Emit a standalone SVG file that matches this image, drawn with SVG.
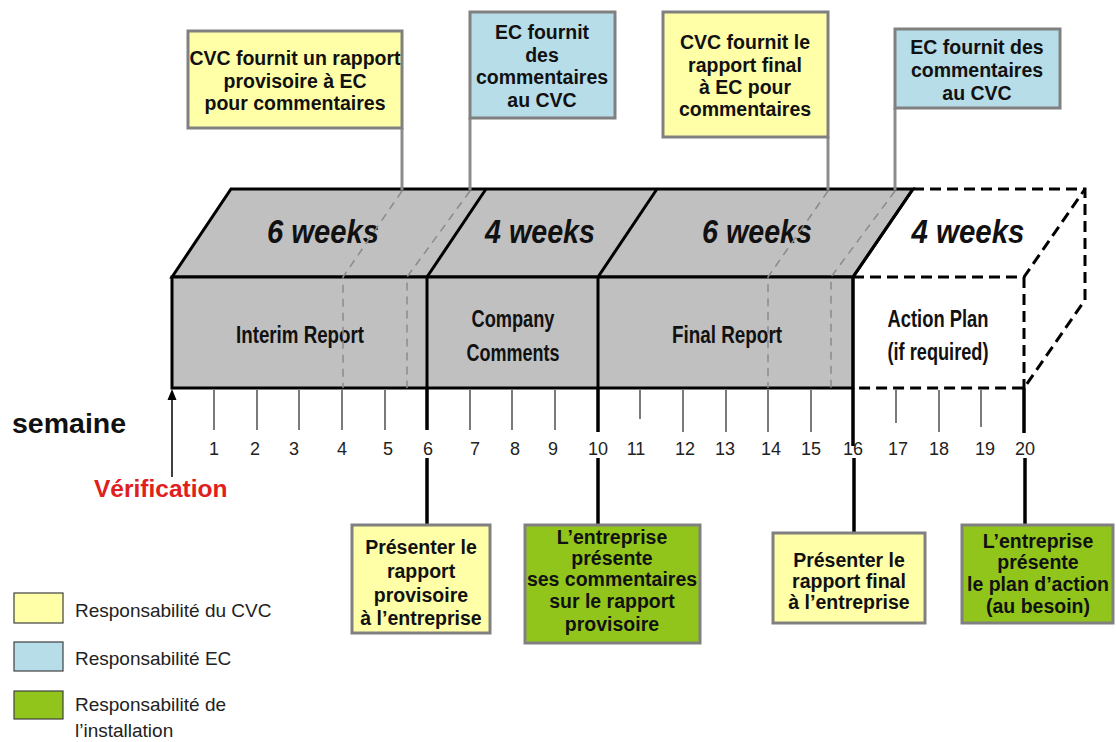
<svg xmlns="http://www.w3.org/2000/svg" width="1116" height="742" viewBox="0 0 1116 742">
<defs>
<style>
.bg{fill:#ffffff}
.face{fill:#c0c0c0;stroke:#000;stroke-width:3;stroke-linejoin:miter}
.solid{stroke:#000;stroke-width:3;fill:none}
.dash{stroke:#000;stroke-width:3;fill:none;stroke-dasharray:11 6}
.gdash{stroke:#8a8a8a;stroke-width:1.5;fill:none;stroke-dasharray:8 6}
.stem{stroke:#8c8c8c;stroke-width:3;fill:none}
.tick{stroke:#333;stroke-width:1.3}
.thick{stroke:#000;stroke-width:3.5}
.cy{fill:#ffffa8;stroke:#808080;stroke-width:3}
.cb{fill:#b7dde8;stroke:#808080;stroke-width:3}
.cg{fill:#92c51b;stroke:#808080;stroke-width:3}
.ct{font-family:"Liberation Sans",Arial,sans-serif;font-weight:bold;font-size:19.5px;fill:#111;text-anchor:middle}
.wk{font-family:"Liberation Sans",Arial,sans-serif;font-weight:bold;font-style:italic;font-size:34px;fill:#111;text-anchor:middle}
.lab{font-family:"Liberation Sans",Arial,sans-serif;font-weight:bold;font-size:23px;fill:#111;text-anchor:middle}
.num{font-family:"Liberation Sans",Arial,sans-serif;font-size:18px;fill:#222;text-anchor:middle}
.leg{font-family:"Liberation Sans",Arial,sans-serif;font-size:19px;fill:#222}
.sw{stroke:#404040;stroke-width:1.2}
</style>
</defs>
<rect class="bg" x="0" y="0" width="1116" height="742"/>

<g id="timeline-block">
<polygon class="face" points="172,277 231,189 913,189 853,277"/>
<rect class="face" x="172" y="277" width="681" height="111"/>
<line class="solid" x1="427" y1="277" x2="486" y2="189"/>
<line class="solid" x1="598" y1="277" x2="657" y2="189"/>
<line class="solid" x1="427" y1="277" x2="427" y2="388"/>
<line class="solid" x1="598" y1="277" x2="598" y2="388"/>
<line class="solid" x1="853" y1="277" x2="913" y2="189"/>
<line class="solid" x1="853" y1="277" x2="853" y2="388"/>
<path class="dash" d="M913,189 L1085,189 L1085,300 L1024,388 L853,388"/>
<path class="dash" d="M853,277 L1024,277 L1085,189"/>
<line class="dash" x1="1024" y1="277" x2="1024" y2="388"/>
<text class="wk" x="323" y="243" textLength="112" lengthAdjust="spacingAndGlyphs">6 weeks</text>
<text class="wk" x="540" y="243" textLength="110" lengthAdjust="spacingAndGlyphs">4 weeks</text>
<text class="wk" x="757" y="243" textLength="110" lengthAdjust="spacingAndGlyphs">6 weeks</text>
<text class="wk" x="968" y="243" textLength="113" lengthAdjust="spacingAndGlyphs">4 weeks</text>
<text class="lab" x="300" y="343" textLength="128" lengthAdjust="spacingAndGlyphs">Interim Report</text>
<text class="lab" x="513" y="327" textLength="83" lengthAdjust="spacingAndGlyphs">Company</text>
<text class="lab" x="513" y="361" textLength="93" lengthAdjust="spacingAndGlyphs">Comments</text>
<text class="lab" x="727" y="343" textLength="110" lengthAdjust="spacingAndGlyphs">Final Report</text>
<text class="lab" x="938" y="327" textLength="101" lengthAdjust="spacingAndGlyphs">Action Plan</text>
<text class="lab" x="938" y="360" textLength="101" lengthAdjust="spacingAndGlyphs">(if required)</text>
</g>

<g id="axis">
<line class="tick" x1="214" y1="390" x2="214" y2="430"/>
<line class="tick" x1="257" y1="390" x2="257" y2="430"/>
<line class="tick" x1="299" y1="390" x2="299" y2="430"/>
<line class="tick" x1="342" y1="390" x2="342" y2="430"/>
<line class="tick" x1="385" y1="390" x2="385" y2="430"/>
<line class="tick" x1="470" y1="390" x2="470" y2="430"/>
<line class="tick" x1="512" y1="390" x2="512" y2="430"/>
<line class="tick" x1="555" y1="390" x2="555" y2="430"/>
<line class="tick" x1="640" y1="390" x2="640" y2="419"/>
<line class="tick" x1="683" y1="390" x2="683" y2="432"/>
<line class="tick" x1="726" y1="390" x2="726" y2="432"/>
<line class="tick" x1="768" y1="390" x2="768" y2="432"/>
<line class="tick" x1="811" y1="390" x2="811" y2="432"/>
<line class="tick" x1="896" y1="390" x2="896" y2="423"/>
<line class="tick" x1="939" y1="390" x2="939" y2="432"/>
<line class="tick" x1="981" y1="390" x2="981" y2="427"/>
<text class="num" x="214" y="455">1</text>
<text class="num" x="255" y="455">2</text>
<text class="num" x="294" y="455">3</text>
<text class="num" x="342" y="455">4</text>
<text class="num" x="388" y="455">5</text>
<text class="num" x="428" y="455">6</text>
<text class="num" x="475" y="455">7</text>
<text class="num" x="515" y="455">8</text>
<text class="num" x="553" y="455">9</text>
<text class="num" x="598" y="455">10</text>
<text class="num" x="636" y="455">11</text>
<text class="num" x="685" y="455">12</text>
<text class="num" x="725" y="455">13</text>
<text class="num" x="771" y="455">14</text>
<text class="num" x="811" y="455">15</text>
<text class="num" x="853" y="455">16</text>
<text class="num" x="898" y="455">17</text>
<text class="num" x="939" y="455">18</text>
<text class="num" x="985" y="455">19</text>
<text class="num" x="1025" y="455">20</text>
<text x="12" y="433" style="font-family:'Liberation Sans',Arial,sans-serif;font-weight:bold;font-size:28.5px;fill:#111">semaine</text>
<text x="94" y="497" style="font-family:'Liberation Sans',Arial,sans-serif;font-weight:bold;font-size:24.5px;fill:#e0201c">Vérification</text>
</g>

<g id="connectors">
<line x1="172" y1="477" x2="172" y2="398" stroke="#000" stroke-width="1.5"/>
<polygon points="172,389 167.5,400 176.5,400" fill="#000"/>
<line class="stem" x1="402" y1="128" x2="402" y2="190"/>
<line class="stem" x1="470" y1="118" x2="470" y2="190"/>
<line class="stem" x1="828" y1="137" x2="828" y2="190"/>
<line class="stem" x1="895" y1="108" x2="895" y2="190"/>
<path class="gdash" d="M402,191 L343,277 L343,388"/>
<path class="gdash" d="M470,191 L407,277 L407,388"/>
<path class="gdash" d="M828,191 L768,277 L768,388"/>
<path class="gdash" d="M895,191 L831,277 L831,388"/>
<line class="thick" x1="427" y1="388" x2="427" y2="430"/>
<line class="thick" x1="427" y1="458" x2="427" y2="525"/>
<line class="thick" x1="598" y1="388" x2="598" y2="432"/>
<line class="thick" x1="598" y1="458" x2="598" y2="525"/>
<line class="thick" x1="853" y1="388" x2="853" y2="446"/>
<line class="thick" x1="854" y1="458" x2="854" y2="533"/>
<line class="thick" x1="1024" y1="388" x2="1024" y2="433"/>
<line class="thick" x1="1025" y1="458" x2="1025" y2="525"/>
</g>

<g id="cvc-interim">
<rect class="cy" x="188" y="31" width="214" height="97"/>
<text class="ct" x="295" y="65">CVC fournit un rapport</text>
<text class="ct" x="295" y="88">provisoire à EC</text>
<text class="ct" x="295" y="110">pour commentaires</text>
</g>
<g id="ec-comments-1">
<rect class="cb" x="470" y="12" width="145" height="106"/>
<text class="ct" x="542" y="39">EC fournit</text>
<text class="ct" x="542" y="62">des</text>
<text class="ct" x="542" y="84">commentaires</text>
<text class="ct" x="542" y="107">au CVC</text>
</g>
<g id="cvc-final">
<rect class="cy" x="663" y="12" width="165" height="125"/>
<text class="ct" x="745" y="49">CVC fournit le</text>
<text class="ct" x="745" y="72">rapport final</text>
<text class="ct" x="745" y="94">à EC pour</text>
<text class="ct" x="745" y="116">commentaires</text>
</g>
<g id="ec-comments-2">
<rect class="cb" x="895" y="29" width="165" height="79"/>
<text class="ct" x="977" y="54">EC fournit des</text>
<text class="ct" x="977" y="77">commentaires</text>
<text class="ct" x="977" y="100">au CVC</text>
</g>

<g id="present-interim">
<rect class="cy" x="352" y="525" width="138" height="108"/>
<text class="ct" x="421" y="554">Présenter le</text>
<text class="ct" x="421" y="578">rapport</text>
<text class="ct" x="421" y="602">provisoire</text>
<text class="ct" x="421" y="625">à l’entreprise</text>
</g>
<g id="company-comments">
<rect class="cg" x="525" y="525" width="175" height="118"/>
<text class="ct" x="612" y="544">L’entreprise</text>
<text class="ct" x="612" y="565">présente</text>
<text class="ct" x="612" y="586">ses commentaires</text>
<text class="ct" x="612" y="608">sur le rapport</text>
<text class="ct" x="612" y="631">provisoire</text>
</g>
<g id="present-final">
<rect class="cy" x="773" y="533" width="152" height="90"/>
<text class="ct" x="849" y="567">Présenter le</text>
<text class="ct" x="849" y="588">rapport final</text>
<text class="ct" x="849" y="609">à l’entreprise</text>
</g>
<g id="action-plan">
<rect class="cg" x="962" y="525" width="151" height="98"/>
<text class="ct" x="1038" y="548">L’entreprise</text>
<text class="ct" x="1038" y="569">présente</text>
<text class="ct" x="1038" y="591">le plan d’action</text>
<text class="ct" x="1038" y="613">(au besoin)</text>
</g>

<g id="legend">
<rect class="sw" x="14" y="593" width="49" height="30" fill="#ffffa8"/>
<rect class="sw" x="14" y="642" width="49" height="29" fill="#b7dde8"/>
<rect class="sw" x="14" y="691" width="49" height="28" fill="#92c51b"/>
<text class="leg" x="75" y="617">Responsabilité du CVC</text>
<text class="leg" x="75" y="665">Responsabilité EC</text>
<text class="leg" x="75" y="711">Responsabilité de</text>
<text class="leg" x="75" y="737">l’installation</text>
</g>
</svg>
